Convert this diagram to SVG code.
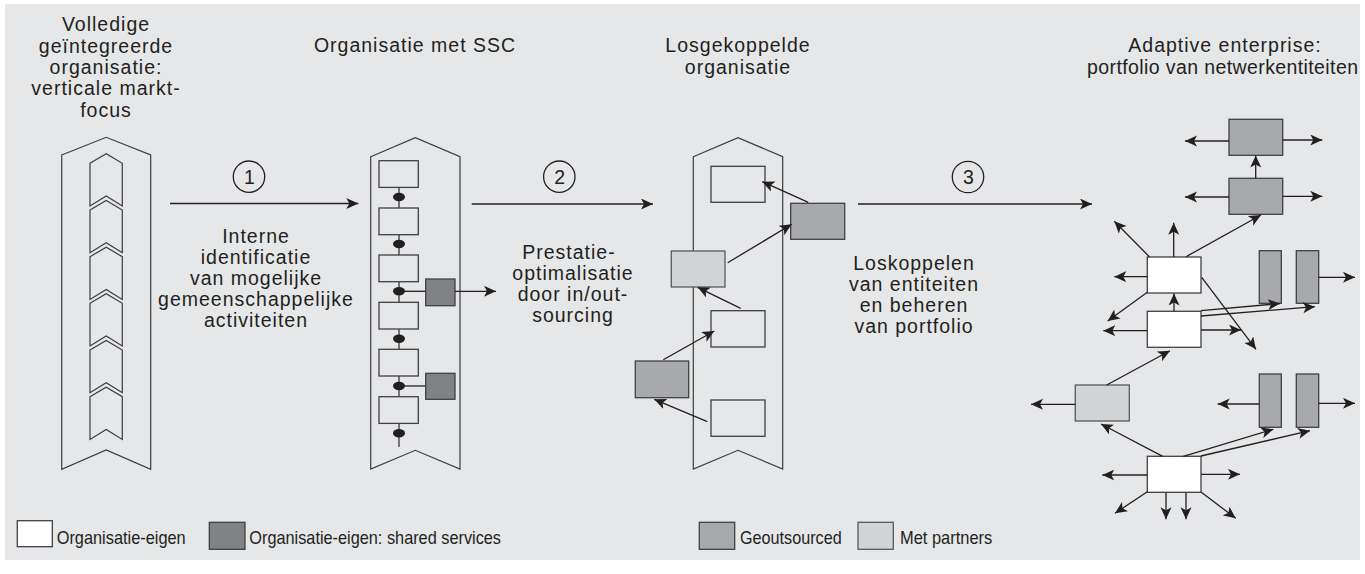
<svg xmlns="http://www.w3.org/2000/svg" width="1365" height="574" viewBox="0 0 1365 574">
<style>
.t{font-family:"Liberation Sans",Arial,sans-serif;font-size:19.5px;letter-spacing:1px;fill:#231f20;text-anchor:middle}
.lg{font-family:"Liberation Sans",Arial,sans-serif;font-size:19px;fill:#231f20}
.ol{fill:none;stroke:#3c3c3e;stroke-width:1.2;stroke-linejoin:miter}
.w{fill:#ffffff;stroke:#414042;stroke-width:1.3}
.e{fill:#e6e7e8;stroke:#414042;stroke-width:1.3}
.ss{fill:#808285;stroke:#414042;stroke-width:1.3}
.go{fill:#a7a9ac;stroke:#414042;stroke-width:1.3}
.mp{fill:#d1d3d4;stroke:#58595b;stroke-width:1.3}
.c{fill:none;stroke:#231f20;stroke-width:1.3}
.a{fill:none;stroke:#231f20;stroke-width:1.3;marker-end:url(#ah)}
.dot{fill:#231f20}
</style>
<defs>
<marker id="ah" markerUnits="userSpaceOnUse" markerWidth="14" markerHeight="12" refX="12" refY="5.5" orient="auto">
<path d="M0,0 L12,5.5 L0,11 L3,5.5 Z" fill="#231f20"/>
</marker>
</defs>
<rect x="0" y="0" width="1365" height="574" fill="#ffffff"/>
<rect x="5" y="4" width="1355" height="556" fill="#e6e7e8"/>

<!-- Titles -->
<g id="title1">
<text class="t" x="106" y="31">Volledige</text>
<text class="t" x="106" y="53">geïntegreerde</text>
<text class="t" x="106" y="74">organisatie:</text>
<text class="t" x="106" y="95">verticale markt-</text>
<text class="t" x="106" y="117">focus</text>
</g>
<g id="title2"><text class="t" x="415" y="52">Organisatie met SSC</text></g>
<g id="title3">
<text class="t" x="738" y="52">Losgekoppelde</text>
<text class="t" x="738" y="74">organisatie</text>
</g>
<g id="title4">
<text class="t" x="1225" y="52">Adaptive enterprise:</text>
<text class="t" x="1223" y="74" textLength="272" lengthAdjust="spacing">portfolio van netwerkentiteiten</text>
</g>

<!-- Column 1 -->
<g id="col1">
<polygon class="ol" points="61.7,155 106.2,137.3 150.7,155 150.7,469.3 106.2,450 61.7,469.3"/>
<polygon class="ol" points="90,163.3 106.2,153.8 122.3,163.3 122.3,206 106.2,196 90,206"/>
<polygon class="ol" points="90,210 106.2,200.5 122.3,210 122.3,252.7 106.2,242.7 90,252.7"/>
<polygon class="ol" points="90,256.7 106.2,247.2 122.3,256.7 122.3,299.4 106.2,289.4 90,299.4"/>
<polygon class="ol" points="90,303.3 106.2,293.8 122.3,303.3 122.3,346 106.2,336 90,346"/>
<polygon class="ol" points="90,350 106.2,340.5 122.3,350 122.3,392.7 106.2,382.7 90,392.7"/>
<polygon class="ol" points="90,396.7 106.2,387.2 122.3,396.7 122.3,439.4 106.2,429.4 90,439.4"/>
</g>

<!-- Step 1 -->
<g id="step1">
<circle class="c" cx="249" cy="176.7" r="15.7"/>
<text class="t" x="249.5" y="183.5" style="letter-spacing:0">1</text>
<text class="t" x="256" y="243">Interne</text>
<text class="t" x="256" y="264">identificatie</text>
<text class="t" x="256" y="285">van mogelijke</text>
<text class="t" x="256" y="306">gemeenschappelijke</text>
<text class="t" x="256" y="327">activiteiten</text>
</g>

<!-- Column 2 -->
<g id="col2">
<polygon class="ol" points="370.7,156.7 415.3,137.7 460,156.7 460,469 415.3,450.3 370.7,469"/>
<line x1="399" y1="183" x2="399" y2="447" stroke="#58595b" stroke-width="1.6"/>
<g id="c2b1"><rect class="e" x="379" y="160.7" width="39.3" height="26.7"/></g>
<g id="c2b2"><rect class="e" x="379" y="208" width="39.3" height="26.7"/></g>
<g id="c2b3"><rect class="e" x="379" y="255" width="39.3" height="26.7"/></g>
<g id="c2b4"><rect class="e" x="379" y="302.3" width="39.3" height="26.7"/></g>
<g id="c2b5"><rect class="e" x="379" y="349.3" width="39.3" height="26.7"/></g>
<g id="c2b6"><rect class="e" x="379" y="396.7" width="39.3" height="26.7"/></g>
<line class="c" x1="399" y1="291.3" x2="425.7" y2="291.3"/>
<line class="c" x1="399" y1="386" x2="425.7" y2="386"/>
<ellipse class="dot" cx="399" cy="197" rx="6" ry="4.2"/>
<ellipse class="dot" cx="399" cy="244" rx="6" ry="4.2"/>
<ellipse class="dot" cx="399" cy="291.3" rx="6" ry="4.2"/>
<ellipse class="dot" cx="399" cy="338.7" rx="6" ry="4.2"/>
<ellipse class="dot" cx="399" cy="386" rx="6" ry="4.2"/>
<ellipse class="dot" cx="399" cy="433.3" rx="6" ry="4.2"/>
<g id="c2ss1"><rect class="ss" x="425.7" y="279" width="29.3" height="26.7"/></g>
<g id="c2ss2"><rect class="ss" x="425.7" y="373.3" width="29.3" height="26"/></g>
</g>

<!-- Step 2 -->
<g id="step2">
<circle class="c" cx="559.3" cy="176.7" r="15.7"/>
<text class="t" x="559.8" y="183.5" style="letter-spacing:0">2</text>
<text class="t" x="569" y="259">Prestatie-</text>
<text class="t" x="573" y="280">optimalisatie</text>
<text class="t" x="573" y="301">door in/out-</text>
<text class="t" x="573" y="322">sourcing</text>
</g>

<!-- Column 3 -->
<g id="col3">
<polygon class="ol" points="693.3,156.7 738,137.7 782.7,156.7 782.7,469 738,450.3 693.3,469"/>
<g id="c3w1"><rect class="e" x="711" y="166.3" width="54" height="36"/></g>
<g id="c3g1"><rect class="go" x="790.7" y="203.3" width="54" height="36"/></g>
<g id="c3p1"><rect class="mp" x="671.3" y="251" width="53.7" height="36"/></g>
<g id="c3w2"><rect class="e" x="711" y="310.7" width="54" height="36.3"/></g>
<g id="c3g2"><rect class="go" x="635.3" y="361" width="53.4" height="36.7"/></g>
<g id="c3w3"><rect class="e" x="711" y="400" width="54" height="36.3"/></g>
</g>

<!-- Step 3 -->
<g id="step3">
<circle class="c" cx="968" cy="177" r="15.7"/>
<text class="t" x="968.5" y="184" style="letter-spacing:0">3</text>
<text class="t" x="914" y="270">Loskoppelen</text>
<text class="t" x="914" y="291">van entiteiten</text>
<text class="t" x="914" y="312">en beheren</text>
<text class="t" x="914" y="333">van portfolio</text>
</g>

<!-- Network -->
<g id="net">
<g id="n1"><rect class="go" x="1229" y="119.3" width="53.7" height="36"/></g>
<g id="n2"><rect class="go" x="1229" y="178.3" width="53.7" height="36"/></g>
<g id="nA"><rect class="w" x="1147.3" y="257" width="53.7" height="36"/></g>
<g id="nB"><rect class="w" x="1147.3" y="311.3" width="53.7" height="36"/></g>
<g id="nT1"><rect class="go" x="1259.3" y="250.7" width="22" height="52.6"/></g>
<g id="nT2"><rect class="go" x="1296.3" y="250.7" width="22.4" height="52.6"/></g>
<g id="nP"><rect class="mp" x="1075.3" y="385" width="54" height="36"/></g>
<g id="nT3"><rect class="go" x="1259.3" y="374" width="22" height="53.3"/></g>
<g id="nT4"><rect class="go" x="1296.3" y="374" width="22.4" height="53.3"/></g>
<g id="nC"><rect class="w" x="1147.3" y="456.3" width="53.7" height="36"/></g>
</g>

<!-- Connectors -->
<g id="connectors">
<line class="a" x1="170" y1="203.5" x2="358.3" y2="203.5"/>
<line class="a" x1="471.7" y1="204" x2="653" y2="204"/>
<line class="a" x1="858" y1="204" x2="1092" y2="204"/>
<line class="a" x1="455" y1="291.3" x2="496" y2="291.3"/>
<line class="a" x1="808.3" y1="202.3" x2="762.3" y2="181.7"/>
<line class="a" x1="727.7" y1="262.7" x2="791.7" y2="224.3"/>
<line class="a" x1="740.7" y1="308.3" x2="697.7" y2="287.3"/>
<line class="a" x1="663.3" y1="359.7" x2="714.3" y2="331"/>
<line class="a" x1="707.3" y1="421.7" x2="654.3" y2="399.3"/>
<line class="a" x1="1229" y1="141" x2="1185" y2="141"/>
<line class="a" x1="1282.7" y1="140" x2="1322.3" y2="140"/>
<line class="a" x1="1229" y1="197" x2="1185" y2="197"/>
<line class="a" x1="1282.7" y1="196.3" x2="1322.3" y2="196.3"/>
<line class="a" x1="1255.7" y1="178.3" x2="1255.7" y2="155.5"/>
<line class="a" x1="1186" y1="256.7" x2="1261" y2="215"/>
<line class="a" x1="1173.7" y1="257" x2="1173.7" y2="222.7"/>
<line class="a" x1="1149.3" y1="256.7" x2="1114.3" y2="221.3"/>
<line class="a" x1="1147.3" y1="276.7" x2="1114.3" y2="276.7"/>
<line class="a" x1="1147.3" y1="292.3" x2="1107.7" y2="321"/>
<line class="a" x1="1201.7" y1="277.3" x2="1256" y2="349.3"/>
<line class="a" x1="1318.7" y1="277.3" x2="1355" y2="277.3"/>
<line class="a" x1="1174" y1="311.3" x2="1174" y2="293.5"/>
<line class="a" x1="1147.3" y1="330.7" x2="1103.3" y2="330.7"/>
<line class="a" x1="1201" y1="330" x2="1241" y2="330"/>
<line class="a" x1="1201" y1="310.7" x2="1280" y2="303.5"/>
<line class="a" x1="1201" y1="316" x2="1315" y2="306.7"/>
<line class="a" x1="1075.3" y1="404.3" x2="1031" y2="404.3"/>
<line class="a" x1="1106.7" y1="385" x2="1170" y2="350.7"/>
<line class="a" x1="1259.3" y1="404" x2="1217.7" y2="404"/>
<line class="a" x1="1318.7" y1="403.3" x2="1355" y2="403.3"/>
<line class="a" x1="1162.7" y1="456.3" x2="1101" y2="424"/>
<line class="a" x1="1183.3" y1="456.3" x2="1273.3" y2="429.3"/>
<line class="a" x1="1201" y1="456" x2="1310" y2="430.7"/>
<line class="a" x1="1147.3" y1="475" x2="1102.3" y2="475"/>
<line class="a" x1="1201" y1="474.3" x2="1240" y2="474.3"/>
<line class="a" x1="1147.3" y1="491.7" x2="1115" y2="513.3"/>
<line class="a" x1="1166" y1="492.3" x2="1166" y2="519.3"/>
<line class="a" x1="1186" y1="492.3" x2="1186" y2="519.3"/>
<line class="a" x1="1201" y1="492" x2="1235.7" y2="518.3"/>
</g>

<!-- Legend -->
<g id="legend">
<g id="lg1"><rect class="w" x="17.3" y="520.7" width="35" height="26"/>
<text class="lg" x="56.7" y="544.3" textLength="129" lengthAdjust="spacingAndGlyphs">Organisatie-eigen</text></g>
<g id="lg2"><rect class="ss" x="209.3" y="522.3" width="35.7" height="27"/>
<text class="lg" x="249.3" y="544.3" textLength="251.7" lengthAdjust="spacingAndGlyphs">Organisatie-eigen: shared services</text></g>
<g id="lg3"><rect class="go" x="699.3" y="522.3" width="35.4" height="27"/>
<text class="lg" x="740" y="544.3" textLength="101.7" lengthAdjust="spacingAndGlyphs">Geoutsourced</text></g>
<g id="lg4"><rect class="mp" x="858" y="522.3" width="35.3" height="27"/>
<text class="lg" x="900" y="544.3" textLength="92.3" lengthAdjust="spacingAndGlyphs">Met partners</text></g>
</g>
</svg>
